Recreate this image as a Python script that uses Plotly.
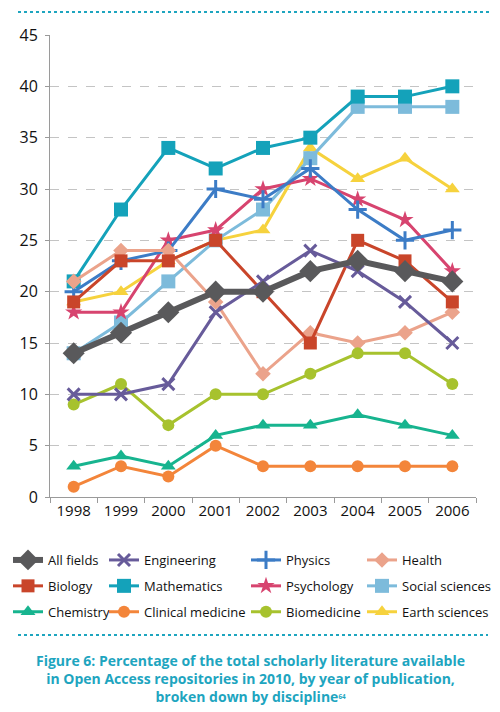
import plotly.graph_objects as go

# Values (percent available in OA repositories)
years = ["1998", "1999", "2000", "2001", "2002", "2003", "2004", "2005", "2006"]

all_fields = [14, 16, 18, 20, 20, 22, 23, 22, 21]
engineering = [10, 10, 11, 18, 21, 24, 22, 19, 15]
physics = [20, 23, 24, 30, 29, 32, 28, 25, 26]
health = [21, 24, 24, 19, 12, 16, 15, 16, 18]
biology = [19, 23, 23, 25, 20, 15, 25, 23, 19]
mathematics = [21, 28, 34, 32, 34, 35, 39, 39, 40]
psychology = [18, 18, 25, 26, 30, 31, 29, 27, 22]
social_sciences = [14, 17, 21, 25, 28, 33, 38, 38, 38]
chemistry = [3, 4, 3, 6, 7, 7, 8, 7, 6]
clinical_medicine = [1, 3, 2, 5, 3, 3, 3, 3, 3]
biomedicine = [9, 11, 7, 10, 10, 12, 14, 14, 11]
earth_sciences = [19, 20, 23, 25, 26, 34, 31, 33, 30]

y_ticks = [0, 5, 10, 15, 20, 25, 30, 35, 40, 45]

TEAL = "#1ea5bf"
FONT = "Open Sans"

# (name, values, colour, symbol, marker size, line width) -- legend order, row by row
series = [
    ("All fields", all_fields, "#59595b", "diamond", 17, 6),
    ("Engineering", engineering, "#675b9a", "x-thin", 12, 3),
    ("Physics", physics, "#3c7cc6", "cross-thin", 13, 3),
    ("Health", health, "#eba38b", "diamond", 12, 3),
    ("Biology", biology, "#c9452a", "square", 13, 3),
    ("Mathematics", mathematics, "#14a2ba", "square", 14, 3),
    ("Psychology", psychology, "#d7446f", "star", 13, 3),
    ("Social sciences", social_sciences, "#7dbbdb", "square", 14, 3),
    ("Chemistry", chemistry, "#17b48f", "triangle-up", 13, 3),
    ("Clinical medicine", clinical_medicine, "#f3853a", "circle", 12, 3),
    ("Biomedicine", biomedicine, "#a7c22e", "circle", 12, 3),
    ("Earth sciences", earth_sciences, "#f6d23d", "triangle-up", 13, 3),
]

# drawing order (back to front)
draw_order = ["Earth sciences", "Social sciences", "Mathematics", "Psychology",
              "Physics", "Health", "Biology", "Biomedicine", "Chemistry",
              "Clinical medicine", "Engineering", "All fields"]

legend_ids = ["legend", "legend2", "legend3", "legend4"]

fig = go.Figure()
names = [s[0] for s in series]
lookup = {s[0]: s for s in series}
for name in draw_order:
    _, vals, col, sym, size, lw = lookup[name]
    rank = names.index(name)
    marker = dict(symbol=sym, size=size, color=col)
    if sym.endswith("-thin"):
        marker["line"] = dict(color=col, width=3)
    fig.add_trace(go.Scatter(
        x=years, y=vals, name=name, mode="lines+markers",
        line=dict(color=col, width=lw), marker=marker,
        legend=legend_ids[rank % 4], legendgroup=name,
        legendrank=rank + 1,
    ))

# the page body adds an 8px margin, so lay things out 8px up/left
OFF = 8
W, H = 500, 712
L, T = 50 - OFF, 35 - OFF
pw, ph = 426, 462
R = W - L - pw
B = H - T - ph


def py(pix):
    # pix = position in the reference picture
    return (H - B - (pix - OFF)) / ph


def px(pix):
    return (pix - OFF - L) / pw


# four legend columns, like the reference's 4 x 3 key (container coords so
# the legends do not push the plot margins)
col_x = [0, 96, 238, 354]
legends = {}
for lid, cx in zip(legend_ids, col_x):
    legends[lid] = dict(
        orientation="v", xref="container", yref="container",
        x=cx / W, y=1 - 537 / H, xanchor="left", yanchor="top",
        font=dict(size=13, family=FONT, color="#111111"), itemwidth=30,
        traceorder="grouped", tracegroupgap=6, bgcolor="rgba(0,0,0,0)",
    )

fig.update_layout(
    width=W, height=H,
    margin=dict(l=L, r=R, t=T, b=B, autoexpand=False),
    paper_bgcolor="white", plot_bgcolor="white",
    font=dict(family=FONT, color="#111111", size=15),
    showlegend=True,
    **legends,
)

fig.update_xaxes(
    type="category", range=[-0.5, 8.5], tickangle=0,
    showline=True, linecolor="#9a9a9a", linewidth=1,
    ticks="outside", tickson="boundaries", ticklen=5, tickcolor="#9a9a9a",
    showgrid=False, tickfont=dict(size=15), zeroline=False,
)
fig.update_yaxes(
    range=[0, 45], tickvals=y_ticks,
    showline=True, linecolor="#9a9a9a", linewidth=1,
    ticks="outside", ticklen=4, tickcolor="#9a9a9a",
    showgrid=True, gridcolor="#c4c4c4", griddash="dash", gridwidth=1,
    tickfont=dict(size=16), zeroline=False, ticklabelstandoff=4,
)

# dotted teal rules above the chart and above the caption
fig.add_shape(type="line", xref="paper", yref="paper",
              x0=px(18), x1=px(490), y0=py(12), y1=py(12),
              line=dict(color=TEAL, width=2, dash="dot"))
fig.add_shape(type="line", xref="paper", yref="paper",
              x0=px(18), x1=px(488), y0=py(635), y1=py(635),
              line=dict(color=TEAL, width=2, dash="dot"))

fig.add_annotation(
    xref="paper", yref="paper", x=px(250), y=py(649),
    xanchor="center", yanchor="top", showarrow=False, align="center",
    text=("<b>Figure 6: Percentage of the total scholarly literature available<br>"
          "in Open Access repositories in 2010, by year of publication,<br>"
          "broken down by discipline<span style='font-size:9px'><sup>64</sup></span></b>"),
    font=dict(size=14, color=TEAL, family=FONT),
)

fig.write_html("out.html")
